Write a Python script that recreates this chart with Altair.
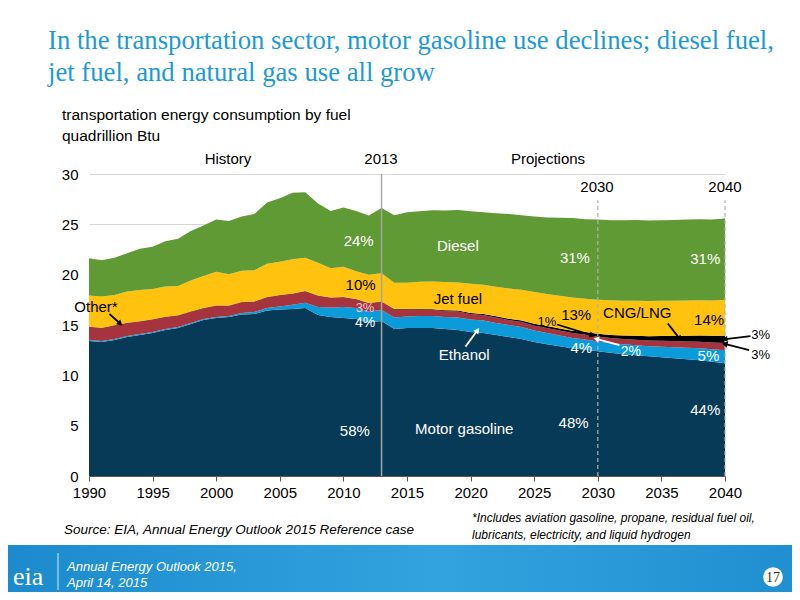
import math
import altair as alt
import pandas as pd

# ---------------- data (quadrillion Btu) ----------------
years = list(range(1990, 2041))

motor_gasoline = [13.4, 13.3, 13.5, 13.8, 14.0, 14.2, 14.5, 14.7, 15.1, 15.5,
                  15.7, 15.8, 16.05, 16.1, 16.45, 16.55, 16.6, 16.7, 16.0, 15.8,
                  15.7, 15.6, 15.25, 15.4, 14.6, 14.7, 14.7, 14.7, 14.6, 14.5,
                  14.3, 14.2, 14.0, 13.8, 13.6, 13.3, 13.1, 12.9, 12.7, 12.55,
                  12.4, 12.25, 12.1, 12.0, 11.9, 11.8, 11.7, 11.6, 11.5, 11.35, 11.2]
ethanol = [0.1, 0.1, 0.1, 0.1, 0.1, 0.1, 0.1, 0.1, 0.1, 0.1,
           0.1, 0.1, 0.15, 0.2, 0.25, 0.3, 0.4, 0.5, 0.8, 0.95,
           1.1, 1.1, 1.1, 1.1, 1.15, 1.15, 1.2, 1.2, 1.2, 1.25,
           1.25, 1.25, 1.2, 1.2, 1.2, 1.15, 1.1, 1.05, 1.0, 1.0,
           0.95, 0.95, 1.0, 1.0, 1.0, 1.05, 1.1, 1.15, 1.2, 1.25, 1.3]
other = [1.3, 1.3, 1.35, 1.3, 1.25, 1.25, 1.2, 1.15, 1.1, 1.05,
         1.1, 1.0, 1.05, 1.0, 1.05, 1.1, 1.1, 1.15, 1.1, 0.95,
         0.95, 0.85, 0.8, 0.8, 0.8, 0.7, 0.65, 0.6, 0.6, 0.6,
         0.55, 0.55, 0.55, 0.5, 0.5, 0.5, 0.5, 0.5, 0.5, 0.5,
         0.5, 0.5, 0.52, 0.54, 0.56, 0.58, 0.6, 0.62, 0.64, 0.67, 0.7]
cng_lng = [0.03] * 24 + [0.04, 0.05, 0.05, 0.06, 0.07, 0.08, 0.09, 0.1, 0.11, 0.13,
                         0.15, 0.17, 0.19, 0.21, 0.23, 0.25, 0.27, 0.3, 0.34, 0.38,
                         0.42, 0.47, 0.52, 0.57, 0.62, 0.67, 0.72]
jet_fuel = [3.1, 3.1, 3.0, 3.1, 3.1, 3.0, 3.0, 2.9, 3.1, 3.2,
            3.35, 3.1, 3.1, 3.1, 3.3, 3.3, 3.4, 3.3, 3.25, 2.9,
            3.0, 2.75, 2.8, 2.8, 2.6, 2.6, 2.7, 2.75, 2.8, 2.8,
            2.9, 2.9, 2.95, 3.0, 3.05, 3.15, 3.2, 3.25, 3.3, 3.3,
            3.4, 3.45, 3.45, 3.5, 3.5, 3.5, 3.5, 3.5, 3.5, 3.5, 3.6]
diesel = [3.7, 3.6, 3.7, 3.8, 4.1, 4.2, 4.5, 4.7, 4.9, 5.0,
          5.2, 5.3, 5.4, 5.6, 6.1, 6.3, 6.6, 6.5, 5.9, 5.7,
          5.9, 6.0, 5.9, 6.5, 6.7, 7.0, 7.0, 7.1, 7.1, 7.2,
          7.2, 7.2, 7.3, 7.4, 7.4, 7.5, 7.6, 7.75, 7.9, 7.9,
          7.95, 7.95, 8.0, 8.0, 8.0, 8.0, 8.0, 8.05, 8.05, 8.05, 8.05]

fuels = ["Motor gasoline", "Ethanol", "Other*", "CNG/LNG", "Jet fuel", "Diesel"]
series = [motor_gasoline, ethanol, other, cng_lng, jet_fuel, diesel]
colors = ["#073a57", "#0b9bd8", "#a5343f", "#000000", "#ffc20e", "#5f9a35"]

x_ticks = list(range(1990, 2041, 5))
y_ticks = [0, 5, 10, 15, 20, 25, 30]

rows = []
for i, (name, vals) in enumerate(zip(fuels, series)):
    for yr, v in zip(years, vals):
        rows.append({"year": yr, "fuel": name, "value": v, "order": i})
df = pd.DataFrame(rows)

# ---------------- layout ----------------
W, H = 636, 302
PL, PT = 81, 166          # plot origin at page (89,174)
TOTW, TOTH = 784, 584
FONT = "Liberation Sans"
SERIF = "Liberation Serif"

xs = alt.Scale(domain=[1990, 2040], nice=False, zero=False)
ys = alt.Scale(domain=[0, 30], nice=False)
x_axis = alt.Axis(values=x_ticks, format="d", title=None, grid=False,
                  tickSize=5, tickColor="#595959", domainColor="#595959",
                  labelPadding=4, labelFontSize=15, labelFont=FONT,
                  labelColor="#000000", labelFlush=False, labelOverlap=False)
y_axis = alt.Axis(values=y_ticks, title=None, grid=True, gridColor="#d6d6d6",
                  ticks=False, domain=False, labelPadding=11,
                  labelFontSize=15, labelFont=FONT, labelColor="#000000")


def X(field="year"):
    return alt.X(f"{field}:Q", scale=xs, axis=x_axis, title=None)


def Y(field="value"):
    return alt.Y(f"{field}:Q", scale=ys, axis=y_axis, title=None)


one = pd.DataFrame({"a": [0]})


def page_text(text, px, py, size=14, color="#000000", font=FONT, align="left",
              style="normal"):
    return alt.Chart(one).mark_text(
        text=text, align=align, baseline="alphabetic", fontSize=size,
        color=color, font=font, fontStyle=style
    ).encode(x=alt.value(px - 8 - PL), y=alt.value(py - 8 - PT))


area = alt.Chart(df).mark_area(interpolate="linear").encode(
    x=X(),
    y=alt.Y("value:Q", stack="zero", scale=ys, axis=y_axis, title=None),
    color=alt.Color("fuel:N", scale=alt.Scale(domain=fuels, range=colors), legend=None),
    order=alt.Order("order:Q", sort="ascending"),
)

# vertical reference lines
rule_2013 = alt.Chart(pd.DataFrame({"year": [2013], "value": [0], "value2": [30]})).mark_rule(
    color="#a6a6a6", strokeWidth=1.5
).encode(x=X(), y=Y(), y2="value2:Q")
rule_proj = alt.Chart(pd.DataFrame({"year": [2030, 2040], "value": [0, 0],
                                    "value2": [27.4, 27.4]})).mark_rule(
    color="#b0b0b0", strokeWidth=1.2, strokeDash=[4, 3]
).encode(x=X(), y=Y(), y2="value2:Q")

# in-plot annotations (year, value, text, colour, size)
ann = [
    (2011.2, 23.3, "24%", "#ffffff", 15),
    (2011.35, 19.0, "10%", "#000000", 15),
    (2011.7, 16.7, "3%", "#f3cdd6", 13),
    (2011.7, 15.2, "4%", "#ffffff", 14),
    (2010.9, 4.5, "58%", "#ffffff", 15),
    (2019.0, 22.8, "Diesel", "#ffffff", 15),
    (2019.0, 17.6, "Jet fuel", "#000000", 15),
    (2019.5, 12.0, "Ethanol", "#ffffff", 15),
    (2019.5, 4.7, "Motor gasoline", "#ffffff", 15),
    (2028.2, 21.7, "31%", "#ffffff", 15),
    (2038.45, 21.55, "31%", "#ffffff", 15),
    (2028.3, 16.0, "13%", "#000000", 15),
    (2033.1, 16.2, "CNG/LNG", "#000000", 15),
    (2038.75, 15.5, "14%", "#000000", 15),
    (2026.0, 15.3, "1%", "#000000", 13),
    (2028.7, 12.7, "4%", "#ffffff", 15),
    (2032.6, 12.3, "2%", "#ffffff", 14),
    (2038.7, 11.9, "5%", "#ffffff", 15),
    (2028.1, 5.3, "48%", "#ffffff", 15),
    (2038.45, 6.55, "44%", "#ffffff", 15),
    (2042.8, 14.0, "3%", "#000000", 13),
    (2042.8, 12.0, "3%", "#000000", 13),
    (1990.55, 16.8, "Other*", "#000000", 15),
]
ann_layers = []
for yr, val, txt, col, sz in ann:
    ann_layers.append(
        alt.Chart(pd.DataFrame({"year": [yr], "value": [val]})).mark_text(
            text=txt, color=col, fontSize=sz, font=FONT, align="center", baseline="middle"
        ).encode(x=X(), y=Y())
    )

# arrows: (x1, y1, x2, y2, colour) in data units, head at (x2, y2)
arrows = [
    (1991.6, 16.1, 1992.4, 15.2, "#000000"),
    (2019.6, 12.85, 2020.5, 14.4, "#ffffff"),
    (2026.8, 15.05, 2029.5, 14.0, "#000000"),
    (2031.7, 13.0, 2029.95, 13.6, "#ffffff"),
    (2035.5, 15.15, 2036.4, 13.7, "#000000"),
    (2042.0, 13.9, 2040.05, 13.6, "#000000"),
    (2041.9, 12.5, 2040.05, 13.1, "#000000"),
]
px_yr = W / 50.0
px_val = H / 30.0
arrow_layers = []
for x1, y1, x2, y2, col in arrows:
    dx = (x2 - x1) * px_yr
    dy = -(y2 - y1) * px_val
    ang = math.degrees(math.atan2(dx, -dy)) % 360
    seg = pd.DataFrame({"year": [x1], "value": [y1], "year2": [x2], "value2": [y2]})
    head = pd.DataFrame({"year": [x2], "value": [y2]})
    arrow_layers.append(
        alt.Chart(seg).mark_rule(color=col, strokeWidth=1.8).encode(
            x=X(), y=Y(), x2="year2:Q", y2="value2:Q")
    )
    arrow_layers.append(
        alt.Chart(head).mark_point(shape="triangle", filled=True, color=col, size=40,
                                   opacity=1, angle=ang).encode(x=X(), y=Y())
    )

# header / footer texts (page coordinates)
TITLE_C = "#1b9ad6"
texts = [
    page_text("In the transportation sector, motor gasoline use declines; diesel fuel,",
              48, 49, size=26.7, color=TITLE_C, font=SERIF),
    page_text("jet fuel, and natural gas use all grow", 48, 81, size=26.7, color=TITLE_C,
              font=SERIF),
    page_text("transportation energy consumption by fuel", 62, 120, size=15.5),
    page_text("quadrillion Btu", 62, 141, size=15.5),
    page_text("History", 228, 164, size=15, align="center"),
    page_text("2013", 381, 164, size=15, align="center"),
    page_text("Projections", 548, 164, size=15, align="center"),
    page_text("2030", 597, 192, size=15, align="center"),
    page_text("2040", 725, 192, size=15, align="center"),
    page_text("Source:  EIA, Annual Energy Outlook 2015 Reference case", 64, 534, size=13.5,
              style="italic"),
    page_text("*Includes aviation gasoline, propane, residual fuel oil,", 472, 522, size=12,
              style="italic"),
    page_text("lubricants, electricity, and liquid hydrogen", 472, 539, size=12, style="italic"),
]

footer_band = alt.Chart(one).mark_rect(
    color=alt.LinearGradient(
        gradient="linear", x1=0, x2=1, y1=0, y2=0,
        stops=[alt.GradientStop(offset=0, color="#1c8bcd"),
               alt.GradientStop(offset=0.55, color="#33a3df"),
               alt.GradientStop(offset=1, color="#1f8fd0")])
).encode(x=alt.value(-PL), x2=alt.value(TOTW - PL), y=alt.value(545 - 8 - PT),
         y2=alt.value(TOTH - PT))
footer_sep = alt.Chart(one).mark_rule(color="#ffffff", strokeWidth=1, opacity=0.8).encode(
    x=alt.value(58 - 8 - PL), y=alt.value(553 - 8 - PT), y2=alt.value(590 - 8 - PT))
page_circle = alt.Chart(one).mark_point(shape="circle", filled=True, color="#ffffff",
                                        size=390, opacity=1).encode(
    x=alt.value(773 - 8 - PL), y=alt.value(577 - 8 - PT))
footer_texts = [
    page_text("eia", 13, 585, size=26, color="#ffffff", font=SERIF),
    page_text("Annual Energy Outlook 2015,", 67, 571, size=13, color="#ffffff", style="italic"),
    page_text("April 14, 2015", 67, 587, size=13, color="#ffffff", style="italic"),
    page_text("17", 773, 582, size=14, color="#333333", font=SERIF, align="center"),
]

chart = alt.layer(
    area, rule_2013, rule_proj, *ann_layers, *arrow_layers, *texts,
    footer_band, footer_sep, page_circle, *footer_texts
).properties(
    width=W, height=H,
    padding={"left": PL, "top": PT, "right": TOTW - PL - W, "bottom": TOTH - PT - H},
    autosize=alt.AutoSizeParams(type="none"),
    background="#ffffff",
).configure_view(strokeWidth=0)

chart.save("out.html", embed_options={"renderer": "svg", "actions": False})
